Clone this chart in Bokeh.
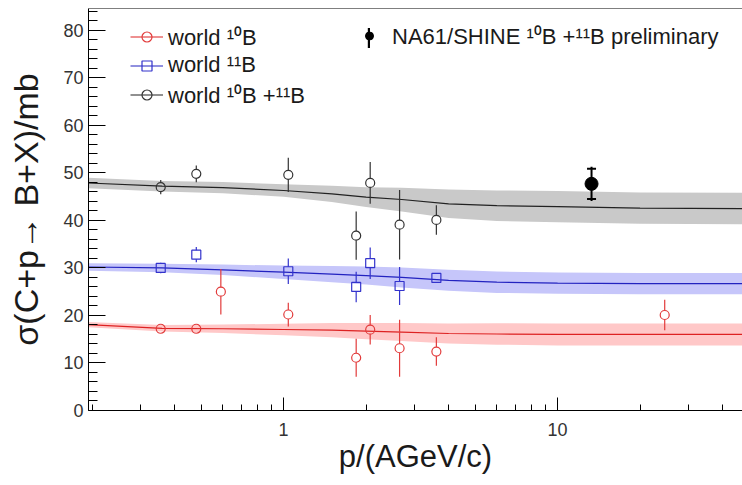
import numpy as np
from bokeh.plotting import figure
from bokeh.models import (Range1d, SingleIntervalTicker, Span, Legend, LegendItem,
                          CustomJSTickFormatter)
from bokeh.embed import file_html
from bokeh.resources import INLINE

# ---------------- data ----------------
# world 10B
b10_p = [0.356, 0.48, 0.59, 1.04, 1.84, 2.07, 2.65, 3.61, 24.6]
b10_sigma = [17.2, 17.2, 25.0, 20.2, 11.1, 17.0, 13.1, 12.4, 20.1]
b10_err = [0.5, 0.5, 4.8, 2.5, 4.0, 3.1, 6.0, 3.0, 3.2]

# world 11B
b11_p = [0.356, 0.48, 1.04, 1.84, 2.07, 2.65, 3.61]
b11_sigma = [30.0, 32.8, 29.3, 26.0, 31.0, 26.2, 27.9]
b11_err = [1.1, 1.6, 2.7, 3.2, 3.3, 4.0, 0.5]

# world 10B + 11B
bsum_p = [0.356, 0.48, 1.04, 1.84, 2.07, 2.65, 3.61]
bsum_sigma = [47.0, 49.8, 49.6, 36.8, 47.9, 39.1, 40.1]
bsum_err = [1.5, 1.75, 3.6, 5.1, 4.4, 7.3, 3.1]

# NA61/SHINE preliminary
na_p = [13.3]
na_sigma = [47.7]
na_stat = [3.6]
na_sys = [3.2]

# parametrisation curves with uncertainty bands
curve_p = [0.19, 0.36, 0.6, 1.0, 1.5, 2.0, 2.7, 4.0, 6.0, 10.0, 20.0, 48.0]
curve_sum = [47.9, 47.2, 46.9, 46.3, 45.6, 44.9, 44.4, 43.5, 43.1, 42.9, 42.6, 42.5]
band_sum = [1.1, 1.1, 1.2, 1.3, 1.7, 2.1, 2.5, 3.0, 3.2, 3.3, 3.3, 3.3]
curve_b11 = [30.2, 30.0, 29.6, 29.1, 28.7, 28.4, 28.0, 27.4, 27.0, 26.8, 26.7, 26.7]
band_b11 = [0.8, 0.9, 1.1, 1.4, 1.7, 1.9, 2.1, 2.2, 2.25, 2.25, 2.25, 2.25]
curve_b10 = [18.1, 17.3, 17.2, 17.05, 16.9, 16.7, 16.5, 16.2, 16.1, 16.0, 16.0, 16.0]
band_b10 = [0.55, 0.7, 0.9, 1.2, 1.5, 1.7, 1.9, 2.1, 2.25, 2.3, 2.3, 2.3]

x_title = "p/(AGeV/c)"
y_title = "σ(C+p→ B+X)/mb"

FONT = "Liberation Sans"
RED, RED_BAND = "#e23b3b", "#ffc8c8"
BLUE, BLUE_BAND = "#3333cc", "#c6c6fa"
GRAY, GRAY_BAND = "#333333", "#c9c9c9"

XMIN, XMAX = 0.194, 47.3
YMAX = 84.6

p = figure(width=742, height=485, x_axis_type="log",
           x_range=Range1d(XMIN, XMAX), y_range=Range1d(0, YMAX),
           output_backend="svg", toolbar_location=None,
           min_border_left=88, min_border_right=0, min_border_top=8,
           min_border_bottom=75, outline_line_color=None,
           background_fill_color="white", border_fill_color="white")
p.xgrid.grid_line_color = None
p.ygrid.grid_line_color = None

# bands
for c, b, col in [(curve_sum, band_sum, GRAY_BAND), (curve_b11, band_b11, BLUE_BAND),
                  (curve_b10, band_b10, RED_BAND)]:
    c = np.array(c); b = np.array(b)
    p.varea(x=curve_p, y1=c - b, y2=c + b, fill_color=col, fill_alpha=1.0)

line_sum = p.line(curve_p, curve_sum, line_color="#222222", line_width=1.2)
line_b11 = p.line(curve_p, curve_b11, line_color="#2222c0", line_width=1.2)
line_b10 = p.line(curve_p, curve_b10, line_color="#dd2222", line_width=1.2)

R = 0.95  # marker half-size in mb: error bars stop at the marker edge


def gapped(x, y, e):
    xs, y0, y1 = [], [], []
    for xi, yi, ei in zip(x, y, e):
        if ei > R:
            xs += [xi, xi]
            y0 += [yi - ei, yi + R]
            y1 += [yi - R, yi + ei]
    return xs, y0, y1


for x, y, e, col in [(b10_p, b10_sigma, b10_err, RED), (b11_p, b11_sigma, b11_err, BLUE),
                     (bsum_p, bsum_sigma, bsum_err, GRAY)]:
    xs, y0, y1 = gapped(x, y, e)
    p.segment(x0=xs, y0=y0, x1=xs, y1=y1, line_color=col, line_width=1.2)

m_b10 = p.scatter(b10_p, b10_sigma, marker="circle", size=9, fill_color=None,
                  line_color=RED, line_width=1.2)
m_b11 = p.scatter(b11_p, b11_sigma, marker="square", size=9, fill_color=None,
                  line_color=BLUE, line_width=1.2)
m_sum = p.scatter(bsum_p, bsum_sigma, marker="circle", size=9, fill_color=None,
                  line_color=GRAY, line_width=1.2)

# NA61 point
na_lo = [s - e for s, e in zip(na_sigma, na_stat)]
na_hi = [s + e for s, e in zip(na_sigma, na_stat)]
p.segment(x0=na_p, y0=na_lo, x1=na_p, y1=na_hi, line_color="black", line_width=2)
for sgn in (-1, 1):
    p.scatter(na_p, [s + sgn * e for s, e in zip(na_sigma, na_sys)], marker="dash",
              size=9, line_color="black", line_width=2)
na_bar = p.vbar(x=na_p, top=na_hi, bottom=na_lo, width=1e-6, fill_color="black",
                line_color=None)
na_dot = p.scatter(na_p, na_sigma, marker="circle", size=13, fill_color="black",
                   line_color="black")

# axes
xa = p.xaxis[0]
xa.formatter = CustomJSTickFormatter(code="return tick.toString();")
ya = p.yaxis[0]
ya.ticker = SingleIntervalTicker(interval=10, num_minor_ticks=5)
xa.axis_label = x_title
ya.axis_label = y_title
for ax in (xa, ya):
    ax.axis_line_color = "black"
    ax.major_tick_line_color = "black"
    ax.minor_tick_line_color = "black"
    ax.major_tick_out = 0
    ax.minor_tick_out = 0
    ax.major_label_text_font = FONT
    ax.major_label_text_font_size = "18px"
    ax.major_label_text_color = "#333333"
    ax.axis_label_text_font = FONT
    ax.axis_label_text_font_style = "normal"
    ax.axis_label_text_color = "#1a1a1a"
xa.major_tick_in = 13
xa.minor_tick_in = 6
xa.major_label_standoff = 12
xa.axis_label_standoff = 0
xa.axis_label_text_font_size = "31px"
ya.major_tick_in = 17
ya.minor_tick_in = 9
ya.major_label_standoff = 5
ya.axis_label_standoff = 15
ya.axis_label_text_font_size = "34px"

# top frame line
p.add_layout(Span(location=YMAX, dimension="width", line_color="black", line_width=1))

# legends
common = dict(padding=0, margin=0, border_line_color=None, background_fill_alpha=0,
              label_text_font=FONT, label_text_font_size="22px",
              label_text_color="#1a1a1a")
leg = Legend(items=[LegendItem(label="world ¹⁰B", renderers=[line_b10, m_b10]),
                    LegendItem(label="world ¹¹B", renderers=[line_b11, m_b11]),
                    LegendItem(label="world ¹⁰B +¹¹B", renderers=[line_sum, m_sum])],
             location=(42, 301), glyph_width=33, glyph_height=25, label_height=25,
             label_standoff=5, spacing=1, **common)
p.add_layout(leg)

leg2 = Legend(items=[LegendItem(label="NA61/SHINE ¹⁰B +¹¹B preliminary",
                                renderers=[na_dot])],
              location=(271, 360), glyph_width=20, glyph_height=25, label_height=25,
              label_standoff=13, **common)
p.add_layout(leg2)

leg3 = Legend(items=[LegendItem(label=" ", renderers=[na_bar])],
              location=(279, 360), glyph_width=3, glyph_height=25,
              label_height=25, label_standoff=0, **common)
p.add_layout(leg3)

open("out.html", "w").write(file_html(p, INLINE))
